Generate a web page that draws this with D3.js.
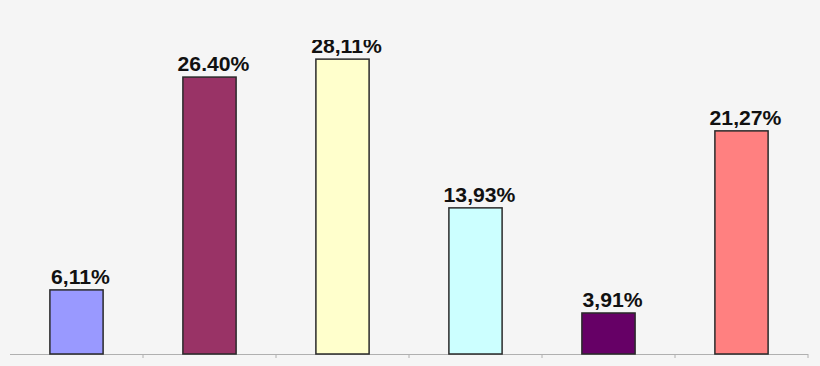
<!DOCTYPE html>
<html>
<head>
<meta charset="utf-8">
<script src="https://cdn.jsdelivr.net/npm/d3@7"></script>
<style>
  body { margin: 0; background: #f5f5f5; }
  svg { display: block; }
  .barLabel { font-family: "Liberation Sans", Arial, sans-serif; font-weight: bold; font-size: 20px; fill: #111; }
</style>
</head>
<body>
<div id="chart"></div>
<script>
var categories = ["c1", "c2", "c3", "c4", "c5", "c6"];
var values = [6.11, 26.40, 28.11, 13.93, 3.91, 21.27];
var labels = ["6,11%", "26.40%", "28,11%", "13,93%", "3,91%", "21,27%"];
var colors = ["#9999ff", "#993366", "#ffffcc", "#ccffff", "#660066", "#ff8080"];

var svgWidth = 820;
var svgHeight = 366;
var baseline = 354;

var svg = d3.select("#chart")
  .append("svg")
  .attr("width", svgWidth)
  .attr("height", svgHeight);

// the original chart cuts off anything above the plot area
svg.append("clipPath")
  .attr("id", "plotClip")
  .append("rect")
  .attr("x", 0).attr("y", 40)
  .attr("width", svgWidth).attr("height", svgHeight - 40);

var data = categories.map(function(c, i) {
  return { cat: c, value: values[i], label: labels[i], color: colors[i] };
});

var xScale = d3.scaleBand()
  .domain(categories)
  .range([10, 808])
  .paddingInner(0.6)
  .paddingOuter(0.3);

var yScale = d3.scaleLinear()
  .domain([0, 30])
  .range([baseline, baseline - 314.7]);

// axis line + ticks between categories
svg.append("line")
  .attr("x1", 10).attr("x2", 808)
  .attr("y1", baseline + 0.5).attr("y2", baseline + 0.5)
  .attr("stroke", "#b0b0b0")
  .attr("stroke-width", 1);

svg.selectAll("line.tick")
  .data(categories)
  .enter()
  .append("line")
  .attr("class", "tick")
  .attr("x1", d => xScale(d) + xScale.bandwidth() / 2 + xScale.step() / 2)
  .attr("x2", d => xScale(d) + xScale.bandwidth() / 2 + xScale.step() / 2)
  .attr("y1", baseline)
  .attr("y2", baseline + 4)
  .attr("stroke", "#b0b0b0");

svg.selectAll("rect.bar")
  .data(data)
  .enter()
  .append("rect")
  .attr("class", "bar")
  .attr("x", d => xScale(d.cat))
  .attr("y", d => yScale(d.value))
  .attr("width", xScale.bandwidth())
  .attr("height", d => baseline - yScale(d.value))
  .attr("fill", d => d.color)
  .attr("stroke", "#2a2a2a")
  .attr("stroke-width", 1.5);

var labelGroup = svg.append("g")
  .attr("clip-path", "url(#plotClip)");

labelGroup.selectAll("text.barLabel")
  .data(data)
  .enter()
  .append("text")
  .attr("class", "barLabel")
  .attr("text-anchor", "middle")
  .attr("transform", d => `translate(${xScale(d.cat) + xScale.bandwidth() / 2 + 4}, ${yScale(d.value) - 6}) scale(1.06, 1)`)
  .text(d => d.label);
</script>
</body>
</html>
